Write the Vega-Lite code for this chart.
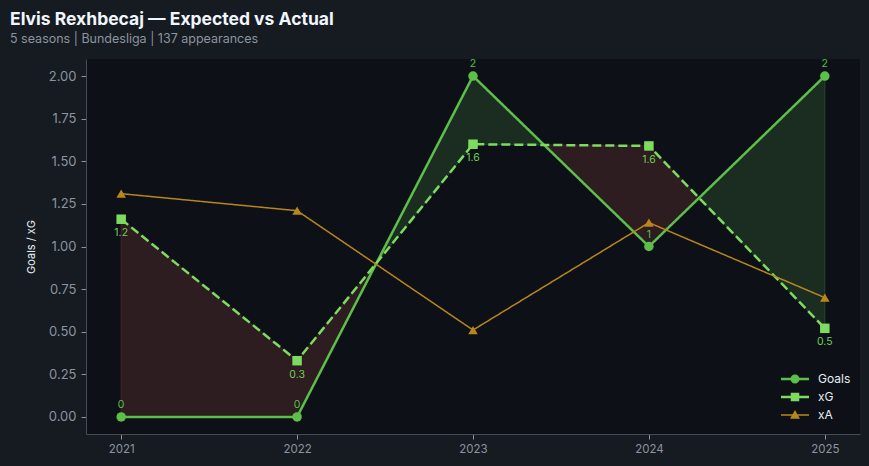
{
  "$schema": "https://vega.github.io/schema/vega-lite/v6.json",
  "width": 774,
  "height": 375,
  "autosize": "none",
  "padding": {"left": 86, "top": 59, "right": 9, "bottom": 32},
  "background": "#161b22",
  "config": {
    "view": {"fill": "#0d1117", "stroke": null},
    "font": "Inter",
    "axis": {"grid": false, "domainColor": "#444c56", "tickColor": "#8b949e", "labelColor": "#8b949e", "tickSize": 5, "labelFont": "Inter"},
    "legend": {"labelFont": "Inter"}
  },
  "title": {
    "text": "Elvis Rexhbecaj — Expected vs Actual",
    "subtitle": "5 seasons | Bundesliga | 137 appearances",
    "anchor": "start",
    "frame": "group",
    "dx": -76,
    "offset": 14,
    "font": "Inter",
    "fontSize": 17.5,
    "fontWeight": "bold",
    "color": "#f0f6fc",
    "subtitleFont": "Inter",
    "subtitleFontSize": 12.5,
    "subtitleColor": "#8b949e",
    "subtitlePadding": 4
  },
  "data": {
    "values": [
      {"year": 2021, "Goals": 0, "xG": 1.16, "xA": 1.31},
      {"year": 2022, "Goals": 0, "xG": 0.33, "xA": 1.21},
      {"year": 2023, "Goals": 2, "xG": 1.60, "xA": 0.51},
      {"year": 2024, "Goals": 1, "xG": 1.59, "xA": 1.14},
      {"year": 2025, "Goals": 2, "xG": 0.52, "xA": 0.70}
    ]
  },
  "resolve": {"scale": {"shape": "independent", "color": "independent"}},
  "encoding": {
    "x": {
      "field": "year",
      "type": "quantitative",
      "scale": {"domain": [2020.8, 2025.2], "nice": false, "zero": false},
      "axis": {"values": [2021, 2022, 2023, 2024, 2025], "format": "d", "title": null, "labelFontSize": 11.5, "labelPadding": 4}
    }
  },
  "layer": [
    {
      "mark": {
        "type": "area",
        "strokeWidth": 1,
        "fill": {"gradient": "linear", "x1": 0, "x2": 1, "y1": 0, "y2": 0, "stops": [
          {"offset": 0, "color": "#2d1c20"}, {"offset": 0.363, "color": "#2d1c20"},
          {"offset": 0.363, "color": "#1b2d20"}, {"offset": 0.601, "color": "#1b2d20"},
          {"offset": 0.601, "color": "#2d1c20"}, {"offset": 0.821, "color": "#2d1c20"},
          {"offset": 0.821, "color": "#1b2d20"}, {"offset": 1, "color": "#1b2d20"}
        ]},
        "stroke": {"gradient": "linear", "x1": 0, "x2": 1, "y1": 0, "y2": 0, "stops": [
          {"offset": 0, "color": "#45232a"}, {"offset": 0.363, "color": "#45232a"},
          {"offset": 0.363, "color": "#22452a"}, {"offset": 0.601, "color": "#22452a"},
          {"offset": 0.601, "color": "#45232a"}, {"offset": 0.821, "color": "#45232a"},
          {"offset": 0.821, "color": "#22452a"}, {"offset": 1, "color": "#22452a"}
        ]}
      },
      "encoding": {
        "y": {
          "field": "Goals",
          "type": "quantitative",
          "scale": {"domain": [-0.1, 2.1], "nice": false, "zero": false},
          "axis": {"values": [0, 0.25, 0.5, 0.75, 1, 1.25, 1.5, 1.75, 2], "format": ".2f", "title": "Goals / xG", "titleColor": "#e6edf3", "titleFontSize": 11, "titleFontWeight": "normal", "titleFont": "Inter", "titlePadding": 12, "labelFontSize": 13, "labelPadding": 5}
        },
        "y2": {"field": "xG"}
      }
    },
    {
      "transform": [{"fold": ["Goals", "xG", "xA"], "as": ["series", "value"]}],
      "mark": {"type": "line"},
      "encoding": {
        "y": {"field": "value", "type": "quantitative"},
        "color": {
          "field": "series",
          "type": "nominal",
          "scale": {"domain": ["Goals", "xG", "xA"], "range": ["#5cbf4a", "#7ddc5f", "#b8861b"]},
          "legend": null
        },
        "strokeWidth": {"condition": {"test": "datum.series === 'xA'", "value": 1.5}, "value": 2.5},
        "strokeDash": {"condition": {"test": "datum.series === 'xG'", "value": [9, 4]}, "value": [1, 0]}
      }
    },
    {
      "mark": {"type": "text", "dy": -12, "fontSize": 10.5, "color": "#5cbf4a"},
      "encoding": {
        "y": {"field": "Goals", "type": "quantitative"},
        "text": {"field": "Goals", "type": "quantitative", "format": "d"}
      }
    },
    {
      "mark": {"type": "text", "dy": 14, "fontSize": 10.5, "color": "#6fcf55"},
      "encoding": {
        "y": {"field": "xG", "type": "quantitative"},
        "text": {"field": "xG", "type": "quantitative", "format": ".1f"}
      }
    },
    {
      "transform": [{"fold": ["Goals", "xG", "xA"], "as": ["series", "value"]}],
      "mark": {"type": "point", "filled": true, "opacity": 1, "size": 90},
      "encoding": {
        "y": {"field": "value", "type": "quantitative"},
        "color": {
          "field": "series",
          "type": "nominal",
          "scale": {"domain": ["Goals", "xG", "xA"], "range": ["#5cbf4a", "#7ddc5f", "#b8861b"]},
          "legend": null
        },
        "shape": {"field": "series", "type": "nominal", "scale": {"domain": ["Goals", "xG", "xA"], "range": ["circle", "square", "triangle-up"]}, "legend": null}
      }
    },
    {
      "transform": [{"fold": ["Goals", "xG", "xA"], "as": ["series", "value"]}, {"filter": "datum.year < 0"}],
      "mark": {"type": "point", "filled": true, "opacity": 1, "strokeWidth": 0},
      "encoding": {
        "y": {"field": "value", "type": "quantitative"},
        "color": {
          "field": "series",
          "type": "nominal",
          "scale": {"domain": ["Goals", "xG", "xA"], "range": ["#5cbf4a", "#7ddc5f", "#b8861b"]},
          "legend": {
            "title": null,
            "orient": "none",
            "legendX": 703,
            "legendY": 314,
            "symbolSize": 100,
            "symbolStrokeWidth": 0,
            "labelOffset": 17,
            "labelColor": "#e6edf3",
            "labelFontSize": 12,
            "rowPadding": 6
          }
        },
        "shape": {
          "field": "series",
          "type": "nominal",
          "scale": {"domain": ["Goals", "xG", "xA"], "range": [
            "M-2.8,-0.25H2.8V0.25H-2.8Z M-0.9,0A0.9,0.9 0 1,1 0.9,0A0.9,0.9 0 1,1 -0.9,0Z",
            "M-2.8,-0.25H2.8V0.25H-2.8Z M-0.85,-0.85H0.85V0.85H-0.85Z",
            "M-2.8,-0.15H2.8V0.15H-2.8Z M0,-1L1,0.75H-1Z"
          ]},
          "legend": {
            "title": null,
            "orient": "none",
            "legendX": 703,
            "legendY": 314,
            "symbolSize": 100,
            "symbolStrokeWidth": 0,
            "labelOffset": 17,
            "labelColor": "#e6edf3",
            "labelFontSize": 12,
            "rowPadding": 6
          }
        }
      }
    }
  ]
}
